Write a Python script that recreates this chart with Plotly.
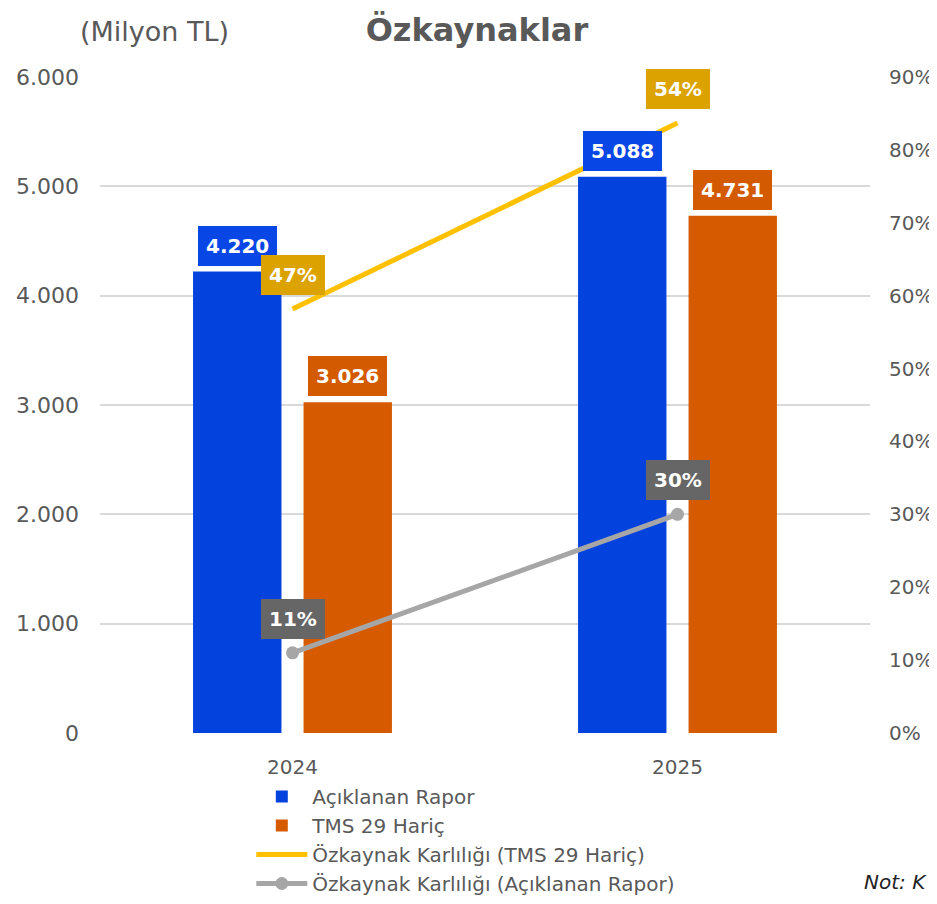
import plotly.graph_objects as go

# ---- data ----
years = ["2024", "2025"]
aciklanan = [4220, 5088]
tms29_haric = [3026, 4731]
karlilik_tms = [0.47, 0.54]
karlilik_acik = [0.11, 0.30]

left_ticks = [0, 1000, 2000, 3000, 4000, 5000, 6000]
right_ticks = [0, 0.1, 0.2, 0.3, 0.4, 0.5, 0.6, 0.7, 0.8, 0.9]

FONT = "DejaVu Sans"
GRAY_TXT = "#595959"
BLUE = "#0442DE"
ORANGE = "#D65B00"
YELLOW = "#FFC000"
LGRAY = "#A6A6A6"

fig = go.Figure()
fig.add_trace(go.Bar(x=years, y=aciklanan, name="Açıklanan Rapor",
                     marker=dict(color=BLUE, line=dict(width=0))))
fig.add_trace(go.Bar(x=years, y=tms29_haric, name="TMS 29 Hariç",
                     marker=dict(color=ORANGE, line=dict(width=0))))
fig.add_trace(go.Scatter(x=years, y=karlilik_tms, name="Özkaynak Karlılığı (TMS 29 Hariç)",
                         mode="lines", yaxis="y3",
                         line=dict(color=YELLOW, width=5)))
fig.add_trace(go.Scatter(x=years, y=karlilik_acik, name="Özkaynak Karlılığı (Açıklanan Rapor)",
                         mode="lines+markers", yaxis="y2",
                         line=dict(color=LGRAY, width=5),
                         marker=dict(color=LGRAY, size=13)))


def box(i, y, yref, text, bg, xshift, yshift):
    # category axes take the category index for annotation positions
    fig.add_annotation(
        x=i, y=y, xref="x", yref=yref, text="<b>%s</b>" % text,
        showarrow=False, xanchor="center", yanchor="bottom",
        xshift=xshift, yshift=yshift, bgcolor=bg, borderpad=8, borderwidth=0,
        font=dict(family=FONT, size=20, color="white"))


def fmt_num(v):
    return "{:,}".format(v).replace(",", ".")


for i, v in enumerate(aciklanan):
    box(i, v, "y", fmt_num(v), "#0846E6", -55, 6)
for i, v in enumerate(tms29_haric):
    box(i, v, "y", fmt_num(v), "#D45A00", 55, 6)
for i, v in enumerate(karlilik_tms):
    box(i, v, "y3", "%d%%" % round(v * 100), "#DBA200", 0, 14)
for i, v in enumerate(karlilik_acik):
    box(i, v, "y2", "%d%%" % round(v * 100), "#666666", 0, 14)

fig.add_annotation(x=-0.029, y=1.0686, xref="paper", yref="paper", yanchor="middle",
                   xanchor="left", text="(Milyon TL)", showarrow=False,
                   font=dict(family=FONT, size=27, color=GRAY_TXT))
fig.add_annotation(x=0.9896, y=-0.227, xref="paper", yref="paper", xanchor="left",
                   yanchor="middle", text="<i>Not: K</i>", showarrow=False,
                   font=dict(family=FONT, size=20, color="#222222"))

fig.update_layout(
    width=929, height=888,
    margin=dict(l=92, r=67, t=69, b=163, autoexpand=False),
    paper_bgcolor="white", plot_bgcolor="white",
    separators=",.",
    title=dict(text="<b>Özkaynaklar</b>", x=0.5048, xanchor="center", y=0.976, yanchor="middle",
               font=dict(family=FONT, size=32, color=GRAY_TXT)),
    font=dict(family=FONT, size=20, color=GRAY_TXT),
    barmode="group", bargap=0.426, bargroupgap=0.2,
    showlegend=True,
    legend=dict(x=0.1965, y=-0.0671, xanchor="left", yanchor="top", orientation="v",
                font=dict(family=FONT, size=20, color=GRAY_TXT),
                bgcolor="rgba(0,0,0,0)", tracegroupgap=0, itemwidth=51),
    xaxis=dict(type="category", showgrid=False, showline=False, zeroline=False, ticks="",
               tickfont=dict(size=20, color=GRAY_TXT), ticklabelstandoff=20),
    yaxis=dict(range=[0, 6000], tickvals=left_ticks, tickformat=",d",
               showgrid=True, gridcolor="#D9D9D9", gridwidth=2,
               zeroline=False, showline=False, ticks="",
               ticklabelstandoff=20,
               tickfont=dict(size=22, color=GRAY_TXT)),
    yaxis2=dict(range=[0, 0.9], tickvals=right_ticks, tickformat=".0%",
                overlaying="y", side="right", showgrid=False, zeroline=False,
                showline=False, ticks="", ticklabelstandoff=18,
                tickfont=dict(size=20, color=GRAY_TXT)),
    yaxis3=dict(range=[0.3105, 0.5573], overlaying="y", side="right",
                visible=False, showgrid=False, zeroline=False),
)

fig.write_html("out.html")
